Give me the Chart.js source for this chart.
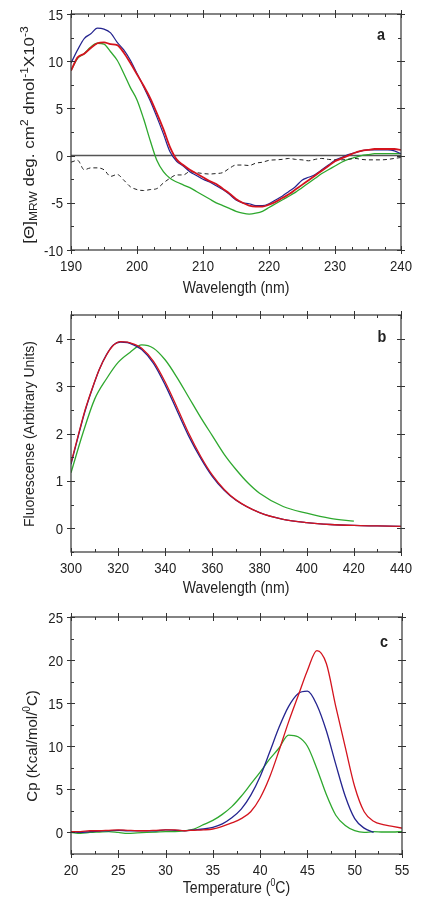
<!DOCTYPE html>
<html>
<head>
<meta charset="utf-8">
<script src="https://cdn.jsdelivr.net/npm/chart.js@4/dist/chart.umd.min.js"></script>
<style>
    html, body { margin: 0; padding: 0; background: #fff; }
    canvas { position: absolute; left: 0; }
</style>
</head>
<body>
<canvas id="chartA" width="422" height="300" style="top:0"></canvas>
<canvas id="chartB" width="422" height="300" style="top:300px"></canvas>
<canvas id="chartC" width="422" height="307" style="top:600px"></canvas>
<script>
// Panel a: CD spectra, 1 nm steps
const cdWavelength = [190,191,192,193,194,195,196,197,198,199,200,201,202,203,204,205,206,207,208,209,210,211,212,213,214,215,216,217,218,219,220,221,222,223,224,225,226,227,228,229,230,231,232,233,234,235,236,237,238,239,240];
const cdRed = [9.0,10.4,10.8,11.4,11.9,12.0,11.8,11.7,10.9,9.8,8.6,7.4,6.1,4.5,2.8,0.9,-0.4,-1.0,-1.5,-1.9,-2.3,-2.7,-3.0,-3.5,-4.0,-4.6,-5.0,-5.3,-5.4,-5.4,-5.2,-4.9,-4.5,-4.1,-3.6,-3.1,-2.6,-2.1,-1.6,-1.1,-0.6,-0.3,0.0,0.3,0.5,0.6,0.7,0.7,0.7,0.7,0.6];
const cdBlue = [9.8,11.2,12.4,12.9,13.5,13.4,13.0,12.0,11.2,10.1,8.7,7.3,5.8,4.1,2.3,0.4,-0.6,-1.1,-1.7,-2.1,-2.5,-2.8,-3.2,-3.6,-4.1,-4.7,-5.0,-5.1,-5.3,-5.3,-5.1,-4.7,-4.3,-3.8,-3.3,-2.6,-2.3,-2.0,-1.5,-1.0,-0.5,-0.2,0.1,0.3,0.5,0.6,0.6,0.6,0.6,0.5,0.2];
const cdGreen = [9.0,10.3,10.8,11.5,11.9,11.8,11.0,10.1,8.7,7.2,5.9,3.9,1.6,-0.5,-1.7,-2.4,-2.8,-3.1,-3.4,-3.8,-4.2,-4.6,-5.0,-5.3,-5.6,-5.9,-6.1,-6.2,-6.1,-5.9,-5.5,-5.1,-4.7,-4.3,-3.9,-3.4,-2.9,-2.4,-1.9,-1.5,-1.1,-0.7,-0.4,-0.2,0.0,0.1,0.2,0.2,0.2,0.2,0.2];
const cdDashed = [-0.7,-0.5,-1.5,-1.3,-1.3,-1.5,-2.2,-2.0,-2.6,-3.3,-3.6,-3.7,-3.6,-3.5,-2.9,-2.4,-2.05,-2.05,-1.7,-1.8,-1.9,-1.95,-1.9,-1.8,-1.35,-1.0,-1.0,-1.05,-0.8,-0.7,-0.5,-0.45,-0.4,-0.3,-0.4,-0.45,-0.55,-0.4,-0.3,-0.4,-0.45,-0.45,-0.4,-0.3,-0.4,-0.45,-0.45,-0.45,-0.4,-0.3,-0.2];
const cdXTicks = [190,200,210,220,230,240];
const cdYTicks = [-10,-5,0,5,10,15];

// Panel b: fluorescence emission
const flWavelength = [300,303,306,309,312,315,318,321,324,327,330,335,340,345,350,355,360,365,370,380,390,400,410,420,430,440];
const flRed = [1.38,1.95,2.5,2.95,3.35,3.65,3.86,3.94,3.93,3.88,3.80,3.52,3.08,2.55,2.0,1.52,1.12,0.82,0.60,0.33,0.19,0.12,0.08,0.06,0.05,0.04];
const flBlue = [1.35,1.93,2.48,2.94,3.35,3.66,3.87,3.93,3.92,3.86,3.77,3.48,3.02,2.48,1.94,1.48,1.09,0.80,0.59,0.33,0.19,0.12,0.08,0.06,0.05,0.04];
const flGreenWavelength = [300,305,310,315,320,325,330,335,340,345,350,355,360,365,370,375,380,390,400,410,420];
const flGreen = [1.17,2.0,2.72,3.15,3.5,3.71,3.87,3.80,3.55,3.18,2.76,2.34,1.95,1.56,1.24,0.96,0.74,0.46,0.32,0.21,0.15];
const flXTicks = [300,320,340,360,380,400,420,440];
const flYTicks = [0,1,2,3,4];

// Panel c: DSC thermograms
const dscTemp = [20,21,22,23,24,25,26,27,28,29,30,31,32,33,34,35,36,37,38,39,40,41,42,43,44,45,46,47,48,49,50,51,52,53,54,55];
const dscRed = [0.1,0.1,0.2,0.2,0.25,0.3,0.25,0.2,0.2,0.25,0.3,0.3,0.2,0.25,0.3,0.4,0.7,1.1,1.6,2.4,4.0,6.4,9.5,12.8,15.8,18.8,21.1,19.6,14.6,9.9,5.3,2.4,1.3,0.9,0.7,0.5];
const dscBlue = [0.05,0.0,0.1,0.15,0.2,0.25,0.2,0.2,0.2,0.2,0.3,0.25,0.2,0.3,0.4,0.6,1.0,1.7,2.7,4.3,6.5,9.3,12.2,14.6,16.1,16.4,14.8,11.8,7.9,4.2,1.6,0.5,0.0];
const dscGreen = [0.0,-0.1,0.0,0.05,0.1,0.0,-0.1,-0.05,0.0,0.05,0.1,0.1,0.2,0.4,0.9,1.4,2.1,3.0,4.2,5.6,7.0,8.5,9.8,11.3,11.1,10.0,7.4,4.4,2.0,0.8,0.2,0.0,0.1,0.05,0.05,0.1];
const dscXTicks = [20,25,30,35,40,45,50,55];
const dscYTicks = [0,5,10,15,20,25];

const FONT = '"Liberation Sans", Arial, sans-serif';
const TEXT = '#222';
const SQUEEZE = 0.85; // lettering in the figure is horizontally condensed

const pts = (xs, ys) => ys.map((v, i) => ({ x: xs[i], y: v }));

// draws a run of text pieces [text, size, dy], centred on (x, y)
function drawRich(ctx, parts, x, y, rotate, sx, sy) {
    ctx.save();
    ctx.translate(x, y);
    if (rotate) ctx.rotate(-Math.PI / 2);
    ctx.scale(sx || 1, sy || 1);
    ctx.fillStyle = TEXT;
    ctx.textBaseline = 'alphabetic';
    ctx.textAlign = 'left';
    let total = 0;
    parts.forEach((p) => {
        ctx.font = p[1] + 'px ' + FONT;
        total += ctx.measureText(p[0]).width;
    });
    let cx = -total / 2;
    parts.forEach((p) => {
        ctx.font = p[1] + 'px ' + FONT;
        ctx.fillText(p[0], cx, p[2] || 0);
        cx += ctx.measureText(p[0]).width;
    });
    ctx.restore();
}

function drawLabel(ctx, str, x, y, align, font) {
    ctx.save();
    ctx.translate(x, y);
    ctx.scale(SQUEEZE, 1);
    ctx.fillStyle = TEXT;
    ctx.font = font;
    ctx.textAlign = align;
    ctx.textBaseline = 'alphabetic';
    ctx.fillText(str, 0, 0);
    ctx.restore();
}

// box, crossing/inward ticks, tick labels, zero line and titles
const framePlugin = {
    id: 'frame',
    beforeDatasetsDraw(chart, args, opts) {
        if (!opts.zeroLine) return;
        const { ctx, chartArea: a, scales: { y } } = chart;
        const py = y.getPixelForValue(0);
        ctx.save();
        ctx.strokeStyle = '#555';
        ctx.lineWidth = 1.5;
        ctx.beginPath();
        ctx.moveTo(a.left, py);
        ctx.lineTo(a.right, py);
        ctx.stroke();
        ctx.restore();
    },
    afterDraw(chart, args, opts) {
        const { ctx, chartArea: a, scales: { x, y } } = chart;
        ctx.save();
        ctx.strokeStyle = '#333';
        ctx.lineWidth = 1.2;
        ctx.strokeRect(a.left, a.top, a.right - a.left, a.bottom - a.top);
        ctx.lineWidth = 1;
        ctx.beginPath();
        const majorX = x.ticks.map((t) => t.value);
        const majorY = y.ticks.map((t) => t.value);
        for (let v = x.min; v <= x.max + 1e-9; v += opts.xMinor) {
            const px = Math.round(x.getPixelForValue(v)) + 0.5;
            const major = majorX.some((m) => Math.abs(m - v) < 1e-6);
            const inn = major ? 4 : 3, out = major ? 4 : 0;
            ctx.moveTo(px, a.bottom + out); ctx.lineTo(px, a.bottom - inn);
            ctx.moveTo(px, a.top - out); ctx.lineTo(px, a.top + inn);
        }
        for (let v = y.min; v <= y.max + 1e-9; v += opts.yMinor) {
            const py = Math.round(y.getPixelForValue(v)) + 0.5;
            const major = majorY.some((m) => Math.abs(m - v) < 1e-6);
            const inn = major ? 4 : 3, out = major ? 4 : 0;
            ctx.moveTo(a.left - out, py); ctx.lineTo(a.left + inn, py);
            ctx.moveTo(a.right + out, py); ctx.lineTo(a.right - inn, py);
        }
        ctx.stroke();
        ctx.restore();

        const tickFont = '15.5px ' + FONT;
        x.ticks.forEach((t) => {
            drawLabel(ctx, String(t.value), x.getPixelForValue(t.value), a.bottom + 20.5, 'center', tickFont);
        });
        y.ticks.forEach((t) => {
            drawLabel(ctx, String(t.value), a.left - 8, y.getPixelForValue(t.value) + 5.5, 'right', tickFont);
        });

        drawRich(ctx, opts.xTitle, (a.left + a.right) / 2, opts.xTitleY, false, 0.88, 1);
        drawRich(ctx, opts.yTitle, opts.yTitleX, opts.yTitleY, true, 1, opts.yTitleSqueeze || 1);
        drawLabel(ctx, opts.letter[0], opts.letter[1], opts.letter[2], 'center', 'bold 17px ' + FONT);
    }
};

function line(data, color, width, dash) {
    return {
        data: data,
        borderColor: color,
        borderWidth: width,
        borderDash: dash || [],
        pointRadius: 0,
        fill: false,
        cubicInterpolationMode: 'monotone'
    };
}

function axis(min, max, ticks, size) {
    return {
        type: 'linear',
        min: min,
        max: max,
        grid: { display: false, drawTicks: false },
        border: { display: false },
        afterBuildTicks: (s) => { s.ticks = ticks.map((v) => ({ value: v })); },
        afterFit: (s) => { if (s.isHorizontal()) s.height = size; else s.width = size; },
        ticks: { display: false }
    };
}

function makeChart(id, datasets, pad, xScale, yScale, frame) {
    return new Chart(document.getElementById(id), {
        type: 'line',
        data: { datasets: datasets },
        options: {
            responsive: false,
            animation: false,
            events: [],
            layout: { padding: pad },
            scales: { x: xScale, y: yScale },
            plugins: { legend: { display: false }, tooltip: { enabled: false }, frame: frame }
        },
        plugins: [framePlugin]
    });
}

document.addEventListener('DOMContentLoaded', () => {
    // 1. Panel a
    makeChart('chartA', [
        line(pts(cdWavelength, cdRed), '#d4141e', 1.8),
        line(pts(cdWavelength, cdDashed), '#222', 1, [4, 3]),
        line(pts(cdWavelength, cdBlue), '#24248f', 1.2),
        line(pts(cdWavelength, cdGreen), '#2ea82e', 1.3)
    ], { left: 0, right: 21, top: 14, bottom: 0 },
    axis(190, 240, cdXTicks, 50), axis(-10, 15, cdYTicks, 71), {
        zeroLine: true, xMinor: 2.5, yMinor: 2.5,
        xTitle: [['Wavelength (nm)', 16]], xTitleY: 293,
        yTitle: [['[\u0398]', 17], ['MRW', 12, 4], [' deg. cm', 17], ['2', 12, -7], [' dmol', 17], ['-1', 12, -7], ['X10', 17], ['-3', 12, -7]],
        yTitleX: 34, yTitleY: 135, yTitleSqueeze: 0.85,
        letter: ['a', 381, 40]
    });

    // 2. Panel b
    makeChart('chartB', [
        line(pts(flWavelength, flRed), '#d4141e', 1.3),
        line(pts(flWavelength, flBlue), '#24248f', 1.3),
        line(pts(flGreenWavelength, flGreen), '#2ea82e', 1.3)
    ], { left: 0, right: 21, top: 15, bottom: 0 },
    axis(300, 440, flXTicks, 48), axis(-0.5, 4.5, flYTicks, 71), {
        zeroLine: false, xMinor: 10, yMinor: 0.5,
        xTitle: [['Wavelength (nm)', 16]], xTitleY: 293,
        yTitle: [['Fluorescense (Arbitrary Units)', 14]],
        yTitleX: 34, yTitleY: 134,
        letter: ['b', 382, 42]
    });

    // 3. Panel c
    makeChart('chartC', [
        line(pts(dscTemp, dscRed), '#d4141e', 1.3),
        line(pts(dscTemp, dscBlue), '#24248f', 1.3),
        line(pts(dscTemp, dscGreen), '#2ea82e', 1.3)
    ], { left: 0, right: 20, top: 17, bottom: 0 },
    axis(20, 55, dscXTicks, 53), axis(-2.5, 25, dscYTicks, 71), {
        zeroLine: false, xMinor: 2.5, yMinor: 2.5,
        xTitle: [['Temperature (', 16], ['0', 10, -7], ['C)', 16]], xTitleY: 293,
        yTitle: [['Cp (Kcal/mol/', 15], ['0', 10, -7], ['C)', 15]],
        yTitleX: 37, yTitleY: 146,
        letter: ['c', 384, 47]
    });
});
</script>
</body>
</html>
